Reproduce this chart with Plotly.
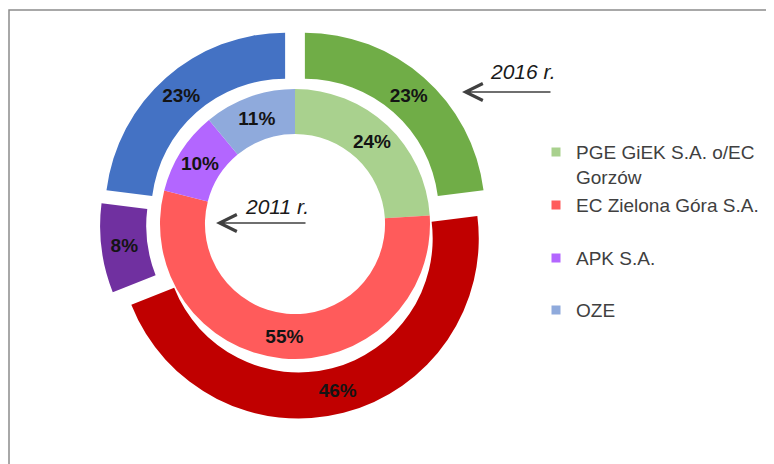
import plotly.graph_objects as go

# ---- data ----
categories = ["PGE GiEK S.A. o/EC<br>Gorzów", "EC Zielona Góra S.A.", "APK S.A.", "OZE"]
share_2016 = [23, 46, 8, 23]   # outer ring
share_2011 = [24, 55, 10, 11]  # inner ring
year_outer = "2016 r."
year_inner = "2011 r."

colors_2016 = ["#70AD47", "#C00000", "#7030A0", "#4472C4"]
colors_2011 = ["#A9D18E", "#FF5B5B", "#B366FF", "#8FAADC"]

W, H = 774, 464
OFF = 8  # page body margin offset


def sx(v):
    return v - OFF


def sy(v):
    return v - OFF


def px_dom(x0, x1, y0, y1):
    return dict(x=[sx(x0) / W, sx(x1) / W], y=[1 - sy(y1) / H, 1 - sy(y0) / H])


label_font = dict(family="Liberation Sans, Arial, sans-serif", size=19, color="#141414", weight="bold")

fig = go.Figure()

# outer ring (2016)
fig.add_trace(go.Pie(
    labels=categories, values=share_2016, sort=False, direction="clockwise", rotation=0,
    hole=0.744, pull=[0.083] * 4,
    marker=dict(colors=colors_2016, line=dict(width=0)),
    texttemplate="%{value}%", textposition="inside", insidetextorientation="horizontal",
    textfont=label_font, showlegend=False, hoverinfo="skip",
    domain=px_dom(100, 490, 29, 419),
))

# inner ring (2011)
fig.add_trace(go.Pie(
    labels=categories, values=share_2011, sort=False, direction="clockwise", rotation=0,
    hole=0.667,
    marker=dict(colors=colors_2011, line=dict(width=0)),
    texttemplate="%{value}%", textposition="inside", insidetextorientation="horizontal",
    textfont=label_font, showlegend=False, hoverinfo="skip",
    domain=px_dom(160, 430, 89, 359),
))

# legend entries (one legend per entry for Excel-like spacing)
legend_names = ["legend", "legend2", "legend3", "legend4"]
marker_centers = [152, 205, 258, 310]
legend_font = dict(family="Liberation Sans, Arial, sans-serif", size=19, color="#404040")
layout_legends = {}
for name, cat, col, yc in zip(legend_names, categories, colors_2011, marker_centers):
    fig.add_trace(go.Scatter(
        x=[None], y=[None], mode="markers", name=cat,
        marker=dict(symbol="square", size=9, color=col),
        legend=name, hoverinfo="skip",
    ))
    layout_legends[name] = dict(
        x=sx(536) / W, xanchor="left", y=1 - (sy(yc) - 18.8) / H, yanchor="top",
        font=legend_font, bgcolor="rgba(0,0,0,0)", borderwidth=0,
        valign="top", itemclick=False, itemdoubleclick=False,
    )

arrow_col = "#404040"
year_font = dict(family="Liberation Sans, Arial, sans-serif", size=21, color="#1a1a1a", style="italic")
annotations = [
    dict(x=sx(462), y=sy(92), ax=sx(552), ay=sy(92), xref="x", yref="y", axref="x", ayref="y",
         text="", showarrow=True, arrowhead=5, arrowsize=2.4, arrowwidth=1.4,
         arrowcolor=arrow_col, standoff=0),
    dict(x=sx(216), y=sy(223), ax=sx(307), ay=sy(223), xref="x", yref="y", axref="x", ayref="y",
         text="", showarrow=True, arrowhead=5, arrowsize=2.4, arrowwidth=1.4,
         arrowcolor=arrow_col, standoff=0),
    dict(x=sx(523), y=sy(71), xref="x", yref="y", text=year_outer, showarrow=False, font=year_font),
    dict(x=sx(277), y=sy(206), xref="x", yref="y", text=year_inner, showarrow=False, font=year_font),
]

fig.update_layout(
    width=W, height=H, margin=dict(l=0, r=0, t=0, b=0),
    paper_bgcolor="white", plot_bgcolor="rgba(0,0,0,0)",
    xaxis=dict(range=[0, W], visible=False, fixedrange=True),
    yaxis=dict(range=[H, 0], visible=False, fixedrange=True),
    annotations=annotations,
    shapes=[dict(type="rect", xref="x", yref="y", x0=sx(9), y0=sy(10), x1=W + 20, y1=H + 20,
                 line=dict(color="#8c8c8c", width=1.5), layer="below")],
    **layout_legends,
)

fig.write_html("out.html")
